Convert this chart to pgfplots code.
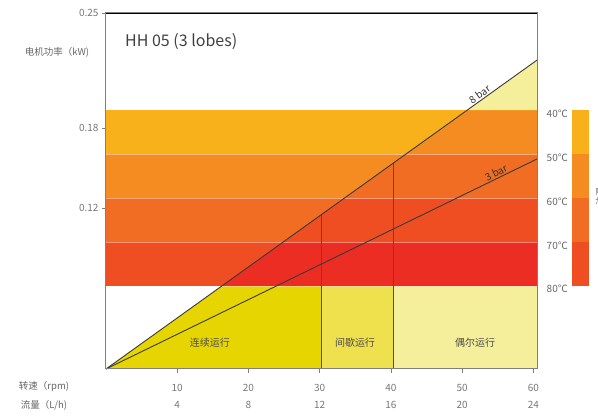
\documentclass[border=0pt]{standalone}
\usepackage{fontspec}
\setmainfont{Noto Sans CJK SC}
\usepackage{pgfplots}
\pgfplotsset{compat=1.18}
\definecolor{cA}{HTML}{F9B11B}
\definecolor{cB}{HTML}{F48C22}
\definecolor{cC}{HTML}{F06D23}
\definecolor{cD}{HTML}{EF4E23}
\definecolor{cE}{HTML}{EC2D24}
\definecolor{yD}{HTML}{E6D500}
\definecolor{yM}{HTML}{EFE04D}
\definecolor{yP}{HTML}{F5EE9B}
\definecolor{tickgray}{HTML}{777777}
\definecolor{labgray}{HTML}{666666}
\definecolor{darkline}{HTML}{3A3A3A}
\definecolor{divline}{HTML}{5A4E36}
\begin{document}
\begin{tikzpicture}[x=1pt,y=1pt]
\useasboundingbox (-106,-50) rectangle (492,369);
\begin{axis}[
  at={(0,0)}, anchor=south west,
  scale only axis, width=431pt, height=356pt,
  xmin=0, xmax=60.5, ymin=0, ymax=0.266,
  clip=false, axis on top,
  axis line style={draw=gray, line width=1pt},
  tick align=outside, major tick length=4pt,
  tick style={draw=gray, line width=0.8pt},
  xtick pos=bottom, ytick pos=left,
  xtick={10,20,30,40,50,60},
  xticklabels={{10\\4},{20\\8},{30\\12},{40\\16},{50\\20},{60\\24}},
  xticklabel style={align=center, font=\fontsize{10}{17}\selectfont, text=tickgray, yshift=-8pt},
  ytick={0.12,0.18,0.266},
  yticklabels={0.12,0.18,0.25},
  yticklabel style={font=\fontsize{10}{12}\selectfont, text=tickgray},
  /pgf/number format/assume math mode=true,
]
% yellow operating regions under the 8 bar line
\addplot[fill=yD, draw=none] coordinates {(0,0) (30.3,0) (30.3,0.0619) (16.23,0.0619)};
\addplot[fill=yM, draw=none] coordinates {(30.3,0) (40.3,0) (40.3,0.0619) (30.3,0.0619)};
\addplot[fill=yP, draw=none] coordinates {(40.3,0) (60.5,0) (60.5,0.0619) (40.3,0.0619)};
\addplot[fill=yP, draw=none] coordinates {(50.67,0.1933) (60.5,0.1933) (60.5,0.2308)};
% temperature bands
\addplot[fill=cA, draw=none] coordinates {(0,0.1604) (60.5,0.1604) (60.5,0.1933) (0,0.1933)};
\addplot[fill=cB, draw=none] coordinates {(0,0.1275) (60.5,0.1275) (60.5,0.1604) (0,0.1604)};
\addplot[fill=cC, draw=none] coordinates {(0,0.0947) (60.5,0.0947) (60.5,0.1275) (0,0.1275)};
\addplot[fill=cD, draw=none] coordinates {(0,0.0619) (60.5,0.0619) (60.5,0.0947) (0,0.0947)};
% darker parts below the 8 bar line
\addplot[fill=cB, draw=none] coordinates {(42.05,0.1604) (60.5,0.1604) (60.5,0.1933) (50.67,0.1933)};
\addplot[fill=cC, draw=none] coordinates {(33.42,0.1275) (60.5,0.1275) (60.5,0.1604) (42.05,0.1604)};
\addplot[fill=cD, draw=none] coordinates {(24.82,0.0947) (60.5,0.0947) (60.5,0.1275) (33.42,0.1275)};
\addplot[fill=cE, draw=none] coordinates {(16.23,0.0619) (60.5,0.0619) (60.5,0.0947) (24.82,0.0947)};
% light separators
\addplot[white, opacity=0.4, line width=0.6pt] coordinates {(0,0.0619) (60.5,0.0619)};
\addplot[white, opacity=0.4, line width=0.6pt] coordinates {(0,0.0947) (60.5,0.0947)};
\addplot[white, opacity=0.4, line width=0.6pt] coordinates {(0,0.1275) (60.5,0.1275)};
\addplot[white, opacity=0.4, line width=0.6pt] coordinates {(0,0.1604) (60.5,0.1604)};
% divider lines
\addplot[divline, line width=1pt] coordinates {(30.3,0) (30.3,0.1156)};
\addplot[divline, line width=1pt] coordinates {(40.3,0) (40.3,0.1537)};
% pressure lines
\addplot[darkline, line width=0.9pt] coordinates {(0,0) (60.5,0.2308)};
\addplot[darkline, line width=0.9pt] coordinates {(0,0) (60.5,0.1569)};
% colour bar legend
\addplot[fill=cA, draw=none] coordinates {(65.37,0.1604) (67.84,0.1604) (67.84,0.1933) (65.37,0.1933)};
\addplot[fill=cB, draw=none] coordinates {(65.37,0.1275) (67.84,0.1275) (67.84,0.1604) (65.37,0.1604)};
\addplot[fill=cC, draw=none] coordinates {(65.37,0.0947) (67.84,0.0947) (67.84,0.1275) (65.37,0.1275)};
\addplot[fill=cD, draw=none] coordinates {(65.37,0.0619) (67.84,0.0619) (67.84,0.0947) (65.37,0.0947)};
\node[rotate=35.6, anchor=south, inner sep=1.5pt, font=\fontsize{10}{12}\selectfont, text=black!80] at (axis cs:52.9,0.2018) {8 bar};
\node[rotate=26, anchor=south, inner sep=1.5pt, font=\fontsize{10}{12}\selectfont, text=black!80] at (axis cs:55.1,0.1429) {3 bar};
\end{axis}
% top border in black
\draw[black, line width=0.8pt] (0,356) -- (431,356);
% legend labels
\begin{scope}[every node/.style={anchor=east, inner sep=0pt, font=\fontsize{10}{12}\selectfont, text=labgray}]
\node at (462,255.7) {40℃};
\node at (462,211.7) {50℃};
\node at (462,167.7) {60℃};
\node at (462,123.7) {70℃};
\node at (462,79.8) {80℃};
\end{scope}
\node[rotate=90, inner sep=0pt, font=\fontsize{9}{11}\selectfont, text=labgray] at (494,172) {油温};
% title
\node[anchor=west, inner sep=0pt, font=\fontsize{16}{18}\selectfont, text=black!75] at (19,327.3) {HH 05 (3 lobes)};
% region labels
\begin{scope}[every node/.style={inner sep=0pt, font=\fontsize{10}{12}\selectfont, text=black!70}]
\node at (104,26) {连续运行};
\node at (249,26) {间歇运行};
\node at (369,26) {偶尔运行};
\end{scope}
% axis labels
\begin{scope}[every node/.style={inner sep=0pt, font=\fontsize{9.5}{12}\selectfont, text=labgray}]
\node at (-49,316.3) {电机功率（kW)};
\node at (-62,-18) {转速（rpm)};
\node at (-62,-36) {流量（L/h)};
\end{scope}
\end{tikzpicture}
\end{document}
